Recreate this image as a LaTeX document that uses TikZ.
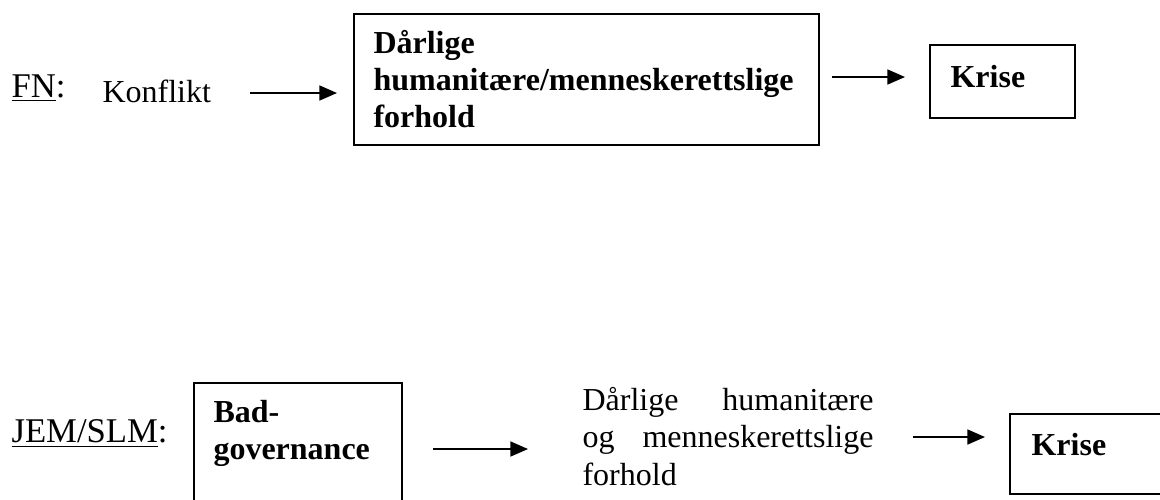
\documentclass[tikz,border=0pt]{standalone}
\usepackage{fontspec}
\setmainfont{Liberation Serif}
\usetikzlibrary{arrows.meta}
\tikzset{
  frame/.style={draw, line width=0.65pt, rectangle, inner sep=0pt, anchor=north west},
  txt/.style={anchor=base west, inner sep=0pt, font=\fontsize{12}{14.06}\selectfont},
  lbl/.style={anchor=base west, inner sep=0pt, font=\fontsize{13}{15}\selectfont},
  arr/.style={-{Triangle[length=6.6pt,width=5.6pt]}, line width=0.65pt},
}
\begin{document}
\begin{tikzpicture}[x=0.375pt,y=-0.375pt]
\useasboundingbox (0,0) rectangle (1160,499);
\clip (0,0) rectangle (1160,499);
\fill[white] (0,0) rectangle (1160,499);

% ---- top row (FN)
\node[lbl] (fn) at (11,97) {\underline{FN}:};
\node[txt] (kon) at (102,102) {Konflikt};
\node[frame, minimum width=174.375pt, minimum height=49.125pt] (b1) at (353,13) {};
\node[txt] (b1t) at (373,53) {\parbox[t]{170pt}{\raggedright\bfseries Dårlige\\humanitære/menneskerettslige\\forhold}};
\node[frame, minimum width=54.375pt, minimum height=27.375pt] (k1) at (929,44) {};
\node[txt] (k1t) at (950,87) {\bfseries Krise};
\coordinate (a1s) at (250,93);
\coordinate (a1e) at (337,93);
\coordinate (a2s) at (832,77);
\coordinate (a2e) at (905,77);
\draw[arr] (a1s) -- (a1e);
\draw[arr] (a2s) -- (a2e);

% ---- bottom row (JEM/SLM)
\node[lbl] (jem) at (11,442) {\underline{JEM/SLM}:};
\node[frame, minimum width=78pt, minimum height=55.5pt] (b2) at (193,382) {};
\node[txt] (b2t) at (213,422) {\parbox[t]{75pt}{\raggedright\bfseries Bad-\\governance}};
\node[txt] (dh) at (582,410) {\parbox[t]{109.125pt}{\makebox[\linewidth][s]{Dårlige humanitære}\\\makebox[\linewidth][s]{og menneskerettslige}\\forhold}};
\node[frame, minimum width=71.625pt, minimum height=30pt] (k2) at (1009,413) {};
\node[txt] (k2t) at (1031,455) {\bfseries Krise};
\coordinate (a3s) at (433,449);
\coordinate (a3e) at (528,449);
\coordinate (a4s) at (913,437);
\coordinate (a4e) at (985,437);
\draw[arr] (a3s) -- (a3e);
\draw[arr] (a4s) -- (a4e);
\end{tikzpicture}
\end{document}
